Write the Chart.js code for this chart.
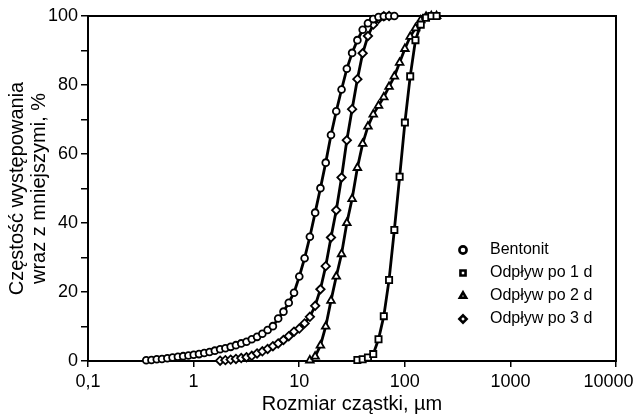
<!DOCTYPE html>
<html>
<head>
<meta charset="utf-8">
<script src="https://cdn.jsdelivr.net/npm/chart.js@4.4.0/dist/chart.umd.min.js"></script>
<style>
  html, body { margin: 0; padding: 0; background: #fff; }
  #wrap { width: 639px; height: 416px; }
</style>
</head>
<body>
<div id="wrap"><canvas id="psd" width="639" height="416"></canvas></div>
<script>
// size classes, um
const sizesBentonit = [0.356, 0.399, 0.448, 0.502, 0.564, 0.632, 0.710, 0.796, 0.893, 1.002,
  1.125, 1.262, 1.416, 1.589, 1.783, 2.000, 2.244, 2.518, 2.825, 3.170,
  3.557, 3.991, 4.477, 5.024, 5.637, 6.325, 7.096, 7.962, 8.934, 10.02,
  11.25, 12.62, 14.16, 15.89, 17.83, 20.00, 22.44, 25.18, 28.25, 31.70,
  35.57, 39.91, 44.77, 50.24, 56.37, 63.25, 70.96, 79.62];
const valuesBentonit = [0.2, 0.3, 0.5, 0.6, 0.8, 1.0, 1.2, 1.4, 1.6, 1.8,
  2.0, 2.3, 2.6, 3.0, 3.4, 3.7, 4.1, 4.6, 5.1, 5.6,
  6.3, 7.0, 7.9, 9.0, 10.1, 12.3, 14.3, 16.9, 19.8, 24.5,
  29.8, 36.0, 43.0, 50.1, 57.5, 65.5, 72.4, 78.7, 84.7, 89.3,
  93.0, 96.0, 97.9, 99.1, 99.7, 99.9, 100, 100];

const sizesDay1 = [35.57, 39.91, 44.77, 50.24, 56.37, 63.25, 70.96, 79.62, 89.34, 100.2,
  112.5, 126.2, 141.6, 158.9, 178.3, 200.0];
const valuesDay1 = [0.3, 0.5, 1.0, 2.0, 6.3, 13.0, 23.5, 38.0, 53.4, 69.1,
  82.5, 93.0, 97.5, 99.5, 100, 100];

const sizesDay2 = [12.62, 14.16, 15.89, 17.83, 20.00, 22.44, 25.18, 28.25, 31.70, 35.57,
  39.91, 44.77, 50.24, 56.37, 63.25, 70.96, 79.62, 89.34, 100.2, 112.5,
  126.2, 141.6, 158.9, 178.3, 200.0];
const valuesDay2 = [0.2, 1.3, 4.5, 10.0, 17.5, 24.5, 31.0, 40.0, 47.0, 56.0,
  63.0, 68.0, 71.5, 74.0, 76.5, 79.5, 82.5, 86.5, 90.5, 94.0,
  96.5, 98.8, 99.8, 100, 100];

const sizesDay3 = [1.783, 2.000, 2.244, 2.518, 2.825, 3.170, 3.557, 3.991, 4.477, 5.024,
  5.637, 6.325, 7.096, 7.962, 8.934, 10.02, 11.25, 12.62, 14.16, 15.89,
  17.83, 20.00, 22.44, 25.18, 28.25, 31.70, 35.57, 39.91, 44.77, 50.24,
  56.37, 63.25, 70.96];
const valuesDay3 = [0.1, 0.25, 0.4, 0.6, 0.85, 1.1, 1.5, 2.2, 2.8, 3.5,
  4.3, 5.1, 6.1, 7.2, 8.5, 9.4, 10.9, 12.8, 16.0, 20.8,
  27.5, 35.8, 43.7, 53.2, 64.0, 73.0, 81.7, 89.2, 94.2, 97.5,
  99.2, 99.9, 100];

const xTicks = [0.1, 1, 10, 100, 1000, 10000];
const xTickLabels = ['0,1', '1', '10', '100', '1000', '10000'];
const yTicks = [0, 10, 20, 30, 40, 50, 60, 70, 80, 90, 100];
const yTickLabels = ['0', '', '20', '', '40', '', '60', '', '80', '', '100'];

const FONT = '"Liberation Sans", Arial, sans-serif';
Chart.defaults.font.family = FONT;
Chart.defaults.color = '#000';

const pts = (xs, ys) => xs.map((x, i) => ({ x: x, y: ys[i] }));

const series = (label, xs, ys, style, r) => ({
  label: label,
  data: pts(xs, ys),
  showLine: true,
  tension: 0,
  borderColor: '#000',
  borderWidth: 2.8,
  pointStyle: style,
  pointRadius: r,
  pointBackgroundColor: '#fff',
  pointBorderColor: '#000',
  pointBorderWidth: 1.8,
  clip: false
});

// box round the plot
const frame = {
  id: 'frame',
  beforeDatasetsDraw(chart) {
    const a = chart.chartArea;
    const ctx = chart.ctx;
    ctx.save();
    ctx.strokeStyle = '#000';
    ctx.lineWidth = 2;
    ctx.strokeRect(a.left, a.top, a.right - a.left, a.bottom - a.top);
    ctx.restore();
  }
};

// legend inside the plot, bottom right
const innerLegend = {
  id: 'innerLegend',
  afterDatasetsDraw(chart) {
    const a = chart.chartArea;
    const ctx = chart.ctx;
    ctx.save();
    ctx.font = '16px ' + FONT;
    ctx.textBaseline = 'middle';
    chart.data.datasets.forEach((ds, i) => {
      const x = a.right - 153;
      const y = a.bottom - 111 + i * 23;
      ctx.lineWidth = 2.6;
      ctx.strokeStyle = '#000';
      ctx.fillStyle = '#fff';
      Chart.helpers.drawPoint(ctx, { pointStyle: ds.pointStyle, radius: 3.6, rotation: 0, borderWidth: 2.6 }, x, y);
      ctx.fillStyle = '#000';
      ctx.fillText(ds.label, x + 27, y);
    });
    ctx.restore();
  }
};

new Chart(document.getElementById('psd'), {
  type: 'scatter',
  data: {
    datasets: [
      series('Bentonit', sizesBentonit, valuesBentonit, 'circle', 3.4),
      series('Odpływ po 1 d', sizesDay1, valuesDay1, 'rect', 4.4),
      series('Odpływ po 2 d', sizesDay2, valuesDay2, 'triangle', 4.4),
      series('Odpływ po 3 d', sizesDay3, valuesDay3, 'rectRot', 4.2)
    ]
  },
  options: {
    responsive: false,
    animation: false,
    layout: { padding: { top: 16, right: 23, left: 0, bottom: 0 } },
    plugins: {
      legend: { display: false },
      tooltip: { enabled: false }
    },
    scales: {
      x: {
        type: 'logarithmic',
        min: 0.1,
        max: 10000,
        afterBuildTicks: s => { s.ticks = xTicks.map(v => ({ value: v })); },
        afterFit: s => { s.height = 55; s.paddingRight = 0; s.paddingLeft = 0; },
        ticks: {
          autoSkip: false,
          maxRotation: 0,
          padding: 4,
          font: { size: 18 },
          // last label sits a bit left of its tick, as in the original
          callback: (v, i) => i === xTickLabels.length - 1 ? xTickLabels[i] + '   ' : xTickLabels[i]
        },
        grid: { drawOnChartArea: false, tickLength: 6, color: '#000', lineWidth: 1.5 },
        border: { color: '#000', width: 2 },
        title: {
          display: true,
          text: 'Rozmiar cząstki, µm',
          font: { size: 20, lineHeight: 1.1 },
          padding: { top: 0, bottom: 1 }
        }
      },
      y: {
        min: 0,
        max: 100,
        afterBuildTicks: s => { s.ticks = yTicks.map(v => ({ value: v })); },
        afterFit: s => { s.width = 88; },
        ticks: {
          autoSkip: false,
          padding: 3,
          font: { size: 18 },
          callback: (v, i) => yTickLabels[i]
        },
        grid: { drawOnChartArea: false, tickLength: 7, color: '#000', lineWidth: 1.5 },
        border: { color: '#000', width: 2 },
        title: {
          display: true,
          text: ['Częstość występowania', 'wraz z mniejszymi, %'],
          font: { size: 20, lineHeight: 1.1 },
          padding: { top: 6, bottom: 0 }
        }
      }
    }
  },
  plugins: [frame, innerLegend]
});
</script>
</body>
</html>
